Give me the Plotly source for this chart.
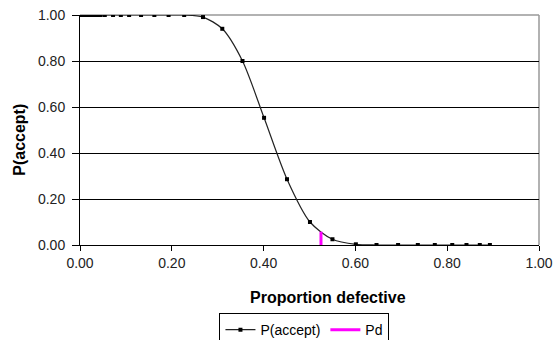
import plotly.graph_objects as go

# Data
prop_defective = [0.0, 0.005, 0.01, 0.015, 0.02, 0.025, 0.03, 0.035, 0.04, 0.045,
                  0.054, 0.072, 0.089, 0.107, 0.133, 0.162, 0.193, 0.227, 0.268,
                  0.310, 0.354, 0.401, 0.451, 0.501, 0.550, 0.601, 0.646, 0.693,
                  0.736, 0.773, 0.811, 0.842, 0.871, 0.893]
p_accept = [1.0, 1.0, 1.0, 1.0, 1.0, 1.0, 1.0, 1.0, 1.0, 1.0,
            1.0, 1.0, 1.0, 1.0, 1.0, 1.0, 1.0, 1.0, 0.991,
            0.94, 0.80, 0.553, 0.286, 0.10, 0.025, 0.003, 0.0, 0.0,
            0.0, 0.0, 0.0, 0.0, 0.0, 0.0]
pd_x = [0.525, 0.525]
pd_y = [0.0, 0.058]

tick_vals = [0.0, 0.2, 0.4, 0.6, 0.8, 1.0]
tick_text = ["0.00", "0.20", "0.40", "0.60", "0.80", "1.00"]

FONT = "Arial, Liberation Sans, sans-serif"

fig = go.Figure()
fig.add_trace(go.Scatter(
    x=prop_defective, y=p_accept, name="P(accept)",
    mode="lines+markers",
    line=dict(color="#222222", width=1.2, shape="spline", smoothing=0.8),
    marker=dict(symbol="square", size=4, color="#000000"),
))
fig.add_trace(go.Scatter(
    x=pd_x, y=pd_y, name="Pd", mode="lines",
    line=dict(color="#FF00FF", width=3),
))

fig.update_layout(
    width=555, height=340,
    margin=dict(l=80, r=16, t=15, b=95, autoexpand=False),
    paper_bgcolor="white", plot_bgcolor="white",
    font=dict(family=FONT, size=14, color="#222222"),
    showlegend=True,
    legend=dict(
        orientation="h", x=0.489, xanchor="center", y=-0.296, yanchor="top",
        bordercolor="#000000", borderwidth=1,
        font=dict(family=FONT, size=14, color="#000000"),
        itemwidth=30, tracegroupgap=0,
    ),
    xaxis=dict(
        range=[0, 1], tickvals=tick_vals, ticktext=tick_text, automargin=False,
        showgrid=False, zeroline=False,
        showline=True, linecolor="#000000", linewidth=1,
        ticks="outside", ticklen=5, tickcolor="#000000",
        ticklabeloverflow="allow",
        tickfont=dict(family=FONT, size=14, color="#222222"),
    ),
    yaxis=dict(
        range=[0, 1], tickvals=tick_vals, ticktext=tick_text, automargin=False,
        showgrid=True, gridcolor="#000000", gridwidth=1, zeroline=False,
        showline=True, linecolor="#000000", linewidth=1,
        ticks="outside", ticklen=7, tickcolor="#000000",
        ticklabelstandoff=4, ticklabeloverflow="allow",
        tickfont=dict(family=FONT, size=14, color="#222222"),
    ),
    shapes=[
        dict(type="line", xref="paper", yref="paper", x0=0, x1=1, y0=1, y1=1,
             line=dict(color="#999999", width=1.5), layer="between"),
        dict(type="line", xref="paper", yref="paper", x0=1, x1=1, y0=0, y1=1,
             line=dict(color="#999999", width=1.5), layer="between"),
    ],
    annotations=[
        dict(text="<b>Proportion defective</b>", xref="paper", yref="paper",
             x=0.540, y=-0.230, xanchor="center", yanchor="middle",
             showarrow=False, font=dict(family=FONT, size=16, color="#000000")),
        dict(text="<b>P(accept)</b>", xref="paper", yref="paper",
             x=-0.131, y=0.457, xanchor="center", yanchor="middle", textangle=-90,
             showarrow=False, font=dict(family=FONT, size=16, color="#000000")),
    ],
)

fig.write_html(
    "out.html",
    config={"displayModeBar": False},
    post_script="document.body.style.margin='0';document.body.style.overflow='hidden';",
)
